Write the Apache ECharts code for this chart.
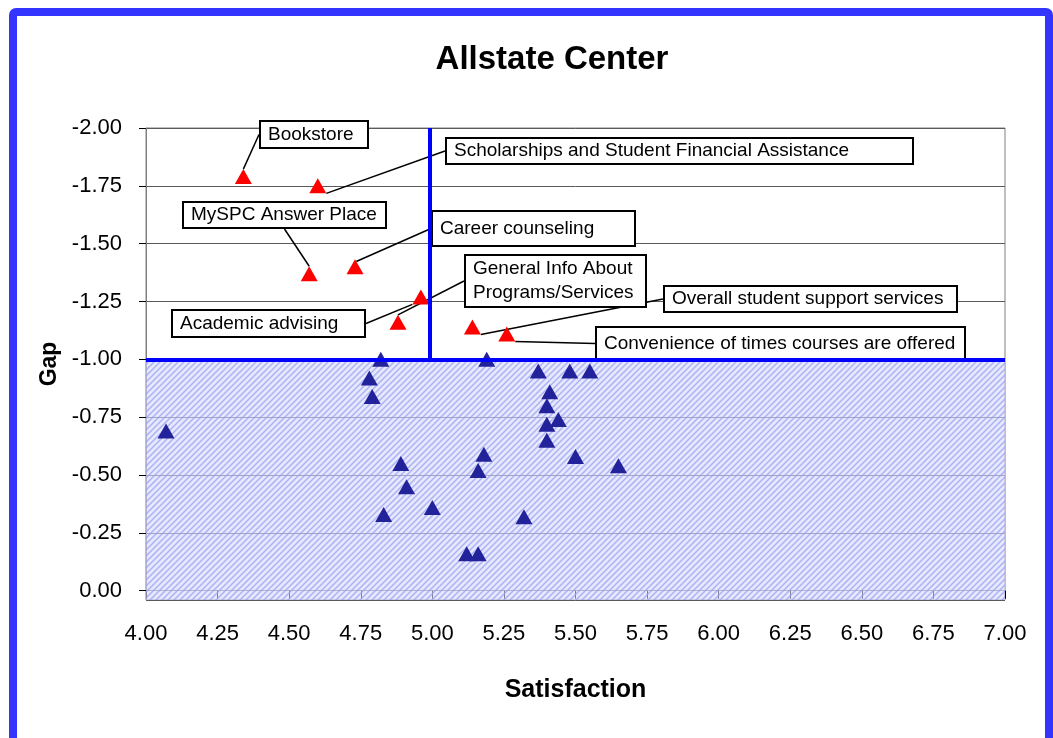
<!DOCTYPE html>
<html>
<head>
<meta charset="utf-8">
<title>Allstate Center</title>
<script src="https://cdn.jsdelivr.net/npm/echarts@6/dist/echarts.min.js"></script>
<style>
  html, body { margin: 0; padding: 0; background: #fff; overflow: hidden; }
  #chart { position: absolute; left: 0; top: 0; width: 1053px; height: 738px; }
  #frame {
    position: absolute; left: 9px; top: 8px; right: 0; height: 760px;
    border: 8px solid #3434ff; border-radius: 7px; pointer-events: none;
  }
</style>
</head>
<body>
<div id="chart"></div>
<div id="frame"></div>
<script>
// labelled services above the -1.00 gap line: [satisfaction, gap]
const labelNames = [
  'Bookstore',
  'Scholarships and Student Financial Assistance',
  'MySPC Answer Place',
  'Career counseling',
  'Academic advising',
  'General Info About\nPrograms/Services',
  'Overall student support services',
  'Convenience of times courses are offered'
];
const labelPoints = [
  [4.34, -1.79],
  [4.60, -1.75],
  [4.57, -1.37],
  [4.73, -1.40],
  [4.96, -1.27],
  [4.88, -1.16],
  [5.14, -1.14],
  [5.26, -1.11]
];
// the rest of the services
const otherPoints = [
  [4.82, -1.00], [4.78, -0.92], [4.79, -0.84], [4.07, -0.69],
  [4.89, -0.55], [4.91, -0.45], [4.83, -0.33], [5.00, -0.36],
  [5.19, -1.00], [5.37, -0.95], [5.48, -0.95], [5.55, -0.95],
  [5.41, -0.86], [5.40, -0.80], [5.44, -0.74], [5.40, -0.72],
  [5.40, -0.65], [5.18, -0.59], [5.16, -0.52], [5.50, -0.58],
  [5.65, -0.54], [5.32, -0.32], [5.12, -0.16], [5.16, -0.16]
];
const satisfactionLine = 4.99;
const gapLine = -1.00;

// where the callout boxes sit (px): left, top, width, height
const boxes = [
  [261, 122, 108, 29],
  [447, 139, 467, 28],
  [184, 203, 203, 28],
  [433, 212, 203, 37],
  [173, 311, 193, 29],
  [466, 256, 181, 54],
  [665, 287, 293, 28],
  [597, 328, 369, 35]
];

const hatch = document.createElement('canvas');
hatch.width = 6;
hatch.height = 6;
const hc = hatch.getContext('2d');
hc.fillStyle = 'rgba(214,216,251,0.6)';
hc.fillRect(0, 0, 6, 6);
hc.strokeStyle = 'rgba(150,155,240,0.7)';
hc.lineWidth = 1.5;
hc.beginPath();
hc.moveTo(-1, 7); hc.lineTo(7, -1);
hc.moveTo(-4, 4); hc.lineTo(4, -4);
hc.moveTo(2, 10); hc.lineTo(10, 2);
hc.stroke();

const font = 'Liberation Sans, Arial, sans-serif';

const chart = echarts.init(document.getElementById('chart'));
chart.setOption({
  animation: false,
  title: {
    text: 'Allstate Center',
    left: 547,
    textAlign: 'center',
    top: 38,
    textStyle: { fontFamily: font, fontSize: 33, fontWeight: 'bold', color: '#000' }
  },
  grid: {
    left: 146, right: 48, top: 128, bottom: 138,
    show: true, borderColor: '#808080', borderWidth: 1
  },
  xAxis: {
    type: 'value', min: 4, max: 7, interval: 0.25,
    name: 'Satisfaction', nameLocation: 'middle', nameGap: 78,
    nameTextStyle: { fontFamily: font, fontSize: 25, fontWeight: 'bold', color: '#000' },
    axisLine: { lineStyle: { color: '#808080' } },
    axisTick: { length: 8, lineStyle: { color: '#000' } },
    axisLabel: {
      margin: 23, color: '#000', fontFamily: font, fontSize: 22,
      formatter: v => v.toFixed(2)
    },
    splitLine: { show: false }
  },
  yAxis: {
    type: 'value', min: -2, max: 0.04, interval: 0.25, inverse: true,
    name: 'Gap', nameLocation: 'middle', nameGap: 84, nameRotate: 90,
    nameTextStyle: { fontFamily: font, fontSize: 23, fontWeight: 'bold', color: '#000' },
    axisLine: { show: true, lineStyle: { color: '#808080' } },
    axisTick: { length: 7, lineStyle: { color: '#000' } },
    axisLabel: {
      margin: 24, color: '#000', fontFamily: font, fontSize: 22,
      showMaxLabel: false,
      formatter: v => v.toFixed(2)
    },
    splitLine: { lineStyle: { color: '#5a5a5a', width: 1 } }
  },
  series: [
    {
      type: 'scatter',
      symbol: 'triangle',
      symbolSize: [17, 15],
      itemStyle: { color: '#22229a', opacity: 1 },
      data: otherPoints,
      z: 3,
      markArea: {
        silent: true,
        itemStyle: { color: { image: hatch, repeat: 'repeat' } },
        data: [[{ yAxis: gapLine }, { yAxis: 0.04 }]]
      },
      markLine: {
        silent: true,
        symbol: 'none',
        label: { show: false },
        lineStyle: { color: '#0000ff', width: 4, type: 'solid' },
        data: [
          [{ coord: [4, gapLine] }, { coord: [7, gapLine] }],
          [{ coord: [satisfactionLine, -2] }, { coord: [satisfactionLine, gapLine] }]
        ]
      }
    },
    {
      type: 'scatter',
      symbol: 'triangle',
      symbolSize: [17, 15],
      itemStyle: { color: '#ff0000', opacity: 1 },
      z: 4,
      data: labelPoints.map((p, i) => {
        const b = boxes[i];
        const lines = labelNames[i].split('\n').length;
        const lh = lines > 1 ? 24 : 22;
        const padV = (b[3] - 4 - lh * lines) / 2;
        return {
          value: p,
          name: labelNames[i],
          label: {
            width: b[2] - 13,
            lineHeight: lh,
            padding: [padV, 4, padV, 7]
          }
        };
      }),
      label: {
        show: true,
        formatter: p => p.name,
        fontFamily: font,
        fontSize: 19,
        color: '#000',
        backgroundColor: '#fff',
        borderColor: '#000',
        borderWidth: 2,
        align: 'left',
        verticalAlign: 'top'
      },
      labelLine: { show: true, lineStyle: { color: '#000', width: 1.5 } },
      labelLayout: p => {
        const b = boxes[p.dataIndex];
        return { x: b[0], y: b[1], align: 'left', verticalAlign: 'top' };
      }
    }
  ]
});
</script>
</body>
</html>
